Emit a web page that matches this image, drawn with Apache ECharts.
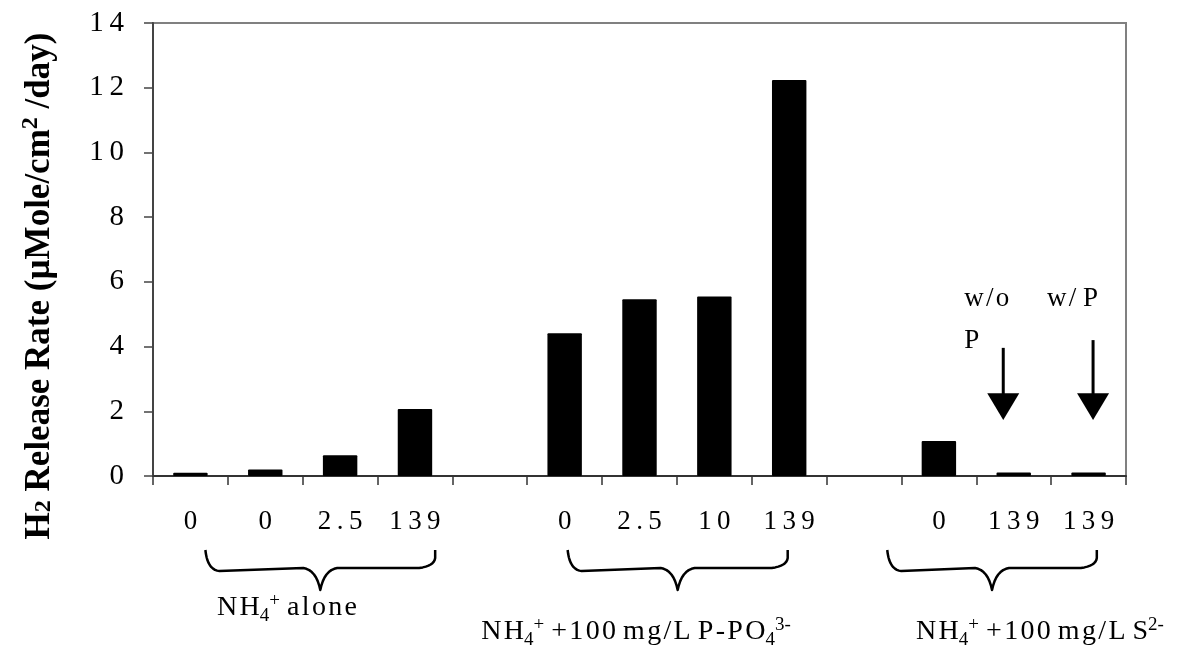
<!DOCTYPE html>
<html>
<head>
<meta charset="utf-8">
<script src="https://cdn.jsdelivr.net/npm/echarts@6/dist/echarts.min.js"></script>
<style>
html,body{margin:0;padding:0;background:#fff;}
#chart{width:1202px;height:651px;}
</style>
</head>
<body>
<div id="chart"></div>
<script>
// ---- data ----
const categories = ['0', '0', '2.5', '139', '', '0', '2.5', '10', '139', '', '0', '139', '139'];
const releaseRates = [0.1, 0.2, 0.64, 2.07, null, 4.41, 5.46, 5.55, 12.24, null, 1.08, 0.11, 0.11];
const yTicks = { min: 0, max: 14, interval: 2 };
const groupRanges = [[0.2, 3.27], [5.04, 7.98], [9.31, 12.11]];
const arrowCats = [11, 12];
const arrowNotes = [['w/o', 'P'], ['w/ P']];

const FONT = '"Liberation Serif", "Times New Roman", serif';
const spaced = s => s.split('').join('\u2009');
const hair = s => s.split('').join('\u200A');

const chart = echarts.init(document.getElementById('chart'), null, { renderer: 'canvas' });

const option = {
  backgroundColor: '#fff',
  animation: false,
  grid: {
    left: 153, top: 23, right: 76, bottom: 175,
    show: true, borderColor: '#808080', borderWidth: 2, backgroundColor: 'transparent'
  },
  xAxis: {
    type: 'category',
    data: categories,
    boundaryGap: true,
    axisLine: { lineStyle: { color: '#333', width: 2 } },
    axisTick: { show: true, interval: 0, length: 9, inside: false, lineStyle: { color: '#333', width: 1.5 } },
    axisLabel: { interval: 0, margin: 32, color: '#000', fontFamily: FONT, fontSize: 27, formatter: v => spaced(v) },
    splitLine: { show: false }
  },
  yAxis: {
    type: 'value',
    min: yTicks.min, max: yTicks.max, interval: yTicks.interval,
    axisLine: { show: true, lineStyle: { color: '#444', width: 2 } },
    axisTick: { show: true, length: 9, inside: false, lineStyle: { color: '#444', width: 1.5 } },
    axisLabel: { margin: 29, color: '#000', fontFamily: FONT, fontSize: 29, formatter: v => spaced(String(v)) },
    splitLine: { show: false }
  },
  series: [{
    type: 'bar',
    data: releaseRates,
    barWidth: '46%',
    itemStyle: { color: '#000', borderRadius: 1 }
  }]
};
chart.setOption(option);

// ---- annotations (axis title, braces, group labels, arrows) positioned via the axes ----
function xPix(v) {
  const a = chart.convertToPixel({ xAxisIndex: 0 }, 0);
  const b = chart.convertToPixel({ xAxisIndex: 0 }, 1);
  return a + (b - a) * v;
}
function yPix(v) { return chart.convertToPixel({ yAxisIndex: 0 }, v); }

const y0 = yPix(0);
const graphics = [];

// y-axis title
graphics.push({
  type: 'text', silent: true, x: 40, y: 286, rotation: Math.PI / 2,
  style: {
    text: '{b|H}{sub|2}{b| Release Rate (µMole/cm}{sup|2}{b| /day)}',
    align: 'center', verticalAlign: 'middle',
    rich: {
      b: { fontFamily: FONT, fontWeight: 'bold', fontSize: 35, fill: '#000' },
      sub: { fontFamily: FONT, fontWeight: 'bold', fontSize: 24, fill: '#000', padding: [8, 0, 0, 0] },
      sup: { fontFamily: FONT, fontWeight: 'bold', fontSize: 24, fill: '#000', padding: [0, 0, 18, 0] }
    }
  }
});

const richLabel = {
  t: { fontFamily: FONT, fontSize: 28, fill: '#000' },
  sub: { fontFamily: FONT, fontSize: 19, fill: '#000', padding: [17, 0, 0, 0] },
  sup: { fontFamily: FONT, fontSize: 19, fill: '#000', padding: [0, 0, 14, 0] }
};
const labelTexts = [
  '{t|' + hair('NH') + '}{sub|4}{sup|+}{t| ' + hair('alone') + '}',
  '{t|' + hair('NH') + '}{sub|4}{sup|+}{t| ' + hair('+100') + ' ' + hair('mg/L') + ' ' + hair('P-PO') + '}{sub|4}{sup|3-}',
  '{t|' + hair('NH') + '}{sub|4}{sup|+}{t| ' + hair('+100') + ' ' + hair('mg/L') + ' S}{sup|2-}'
];
const labelCenters = [287, 636, 1040];
const labelYOff = [132, 156, 156];

function quad(p0, c, p1, n) {
  const pts = [];
  for (let k = 1; k <= n; k++) {
    const t = k / n, u = 1 - t;
    pts.push([u * u * p0[0] + 2 * u * t * c[0] + t * t * p1[0], u * u * p0[1] + 2 * u * t * c[1] + t * t * p1[1]]);
  }
  return pts;
}

groupRanges.forEach((r, i) => {
  const x0 = xPix(r[0]), x1 = xPix(r[1]);
  const xm = (x0 + x1) / 2;
  const top = y0 + 74, bot = y0 + 95, tip = y0 + 114;
  let pts = [[x0, top]];
  pts = pts.concat(quad([x0, top], [x0 + 2, bot - 1], [x0 + 14, bot], 10));
  pts.push([xm - 17, bot - 3]);
  pts = pts.concat(quad([xm - 17, bot - 3], [xm - 4, bot - 1], [xm, tip], 8));
  pts = pts.concat(quad([xm, tip], [xm + 4, bot - 1], [xm + 17, bot - 3], 8));
  pts.push([x1 - 16, bot - 3]);
  pts = pts.concat(quad([x1 - 16, bot - 3], [x1 - 1, bot - 5], [x1, top + 8], 8));
  pts.push([x1, top]);
  graphics.push({
    type: 'polyline', silent: true,
    shape: { points: pts },
    style: { fill: null, stroke: '#000', lineWidth: 2.5, lineJoin: 'round' }
  });
  graphics.push({
    type: 'text', silent: true,
    x: labelCenters[i], y: y0 + labelYOff[i],
    style: { text: labelTexts[i], rich: richLabel, align: 'center', verticalAlign: 'middle' }
  });
});

const arrowDx = [-0.14, 0.06];
const arrowTop = [3.96, 4.2];
arrowCats.forEach((c, i) => {
  const ax = xPix(c + arrowDx[i]);
  const yTop = yPix(arrowTop[i]);
  const yHead = yPix(2.56);
  const yTip = yPix(1.73);
  graphics.push({
    type: 'line', silent: true,
    shape: { x1: ax, y1: yTop, x2: ax, y2: yHead + 2 },
    style: { stroke: '#000', lineWidth: 3 }
  });
  graphics.push({
    type: 'polygon', silent: true,
    shape: { points: [[ax - 16, yHead], [ax + 16, yHead], [ax, yTip]] },
    style: { fill: '#000' }
  });
});
const ax1 = xPix(arrowCats[0] + arrowDx[0]);
const ax2 = xPix(arrowCats[1] + arrowDx[1]);
const noteStyle = { fontFamily: FONT, fontSize: 27, fill: '#000', verticalAlign: 'middle' };
graphics.push({ type: 'text', silent: true, x: ax1 - 39, y: yPix(5.48),
  style: Object.assign({ text: hair(arrowNotes[0][0]), align: 'left' }, noteStyle) });
graphics.push({ type: 'text', silent: true, x: ax1 - 39, y: yPix(4.19),
  style: Object.assign({ text: arrowNotes[0][1], align: 'left' }, noteStyle) });
graphics.push({ type: 'text', silent: true, x: ax2 + 5, y: yPix(5.48),
  style: Object.assign({ text: hair('w/') + ' P', align: 'right' }, noteStyle) });

chart.setOption({ graphic: graphics });
</script>
</body>
</html>
